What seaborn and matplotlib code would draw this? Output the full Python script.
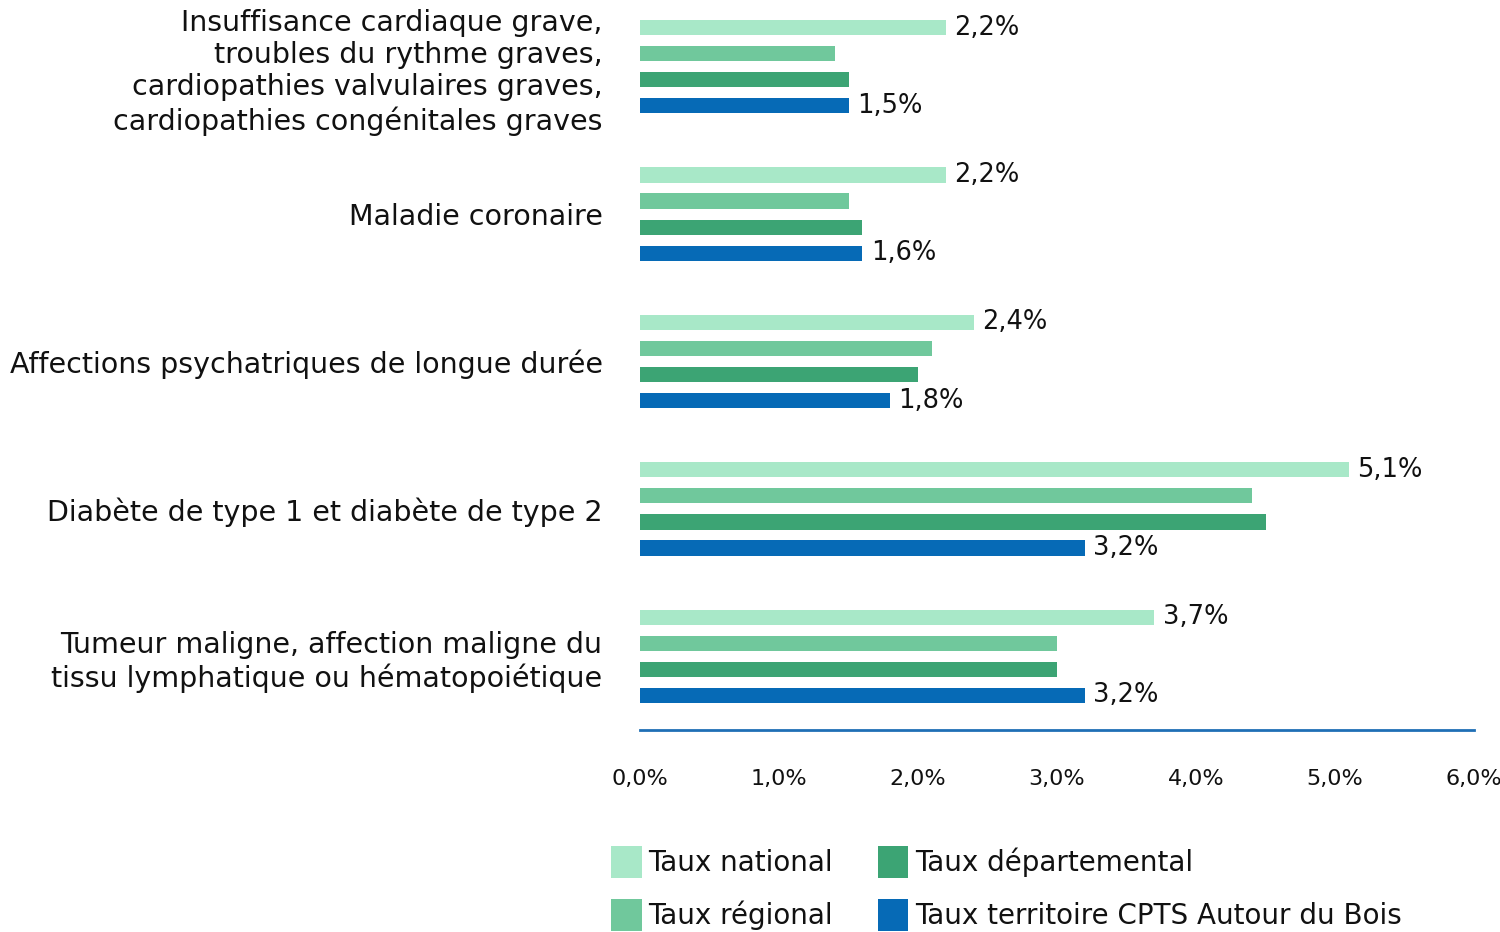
import pandas as pd
import matplotlib
matplotlib.use("Agg")
import matplotlib.pyplot as plt
import seaborn as sns

# --- données ---
categories = [
    "Insuffisance cardiaque grave,\ntroubles du rythme graves,\ncardiopathies valvulaires graves,\ncardiopathies congénitales graves",
    "Maladie coronaire",
    "Affections psychatriques de longue durée",
    "Diabète de type 1 et diabète de type 2",
    "Tumeur maligne, affection maligne du\ntissu lymphatique ou hématopoiétique",
]
series = ["Taux national", "Taux régional", "Taux départemental",
          "Taux territoire CPTS Autour du Bois"]
taux_national = [2.2, 2.2, 2.4, 5.1, 3.7]
taux_regional = [1.4, 1.5, 2.1, 4.4, 3.0]
taux_departemental = [1.5, 1.6, 2.0, 4.5, 3.0]
taux_territoire = [1.5, 1.6, 1.8, 3.2, 3.2]
x_ticks = [0, 1, 2, 3, 4, 5, 6]

colors = ["#a8e8c8", "#70c89c", "#3ca474", "#066ab6"]

rows = []
for s, vals in zip(series, [taux_national, taux_regional, taux_departemental, taux_territoire]):
    for c, v in zip(categories, vals):
        rows.append({"categorie": c, "serie": s, "valeur": v})
df = pd.DataFrame(rows)

sns.set_style("white")
plt.rcParams['font.family'] = ['DejaVu Sans']
plt.rcParams['text.color'] = '#111111'
plt.rcParams['xtick.color'] = '#111111'
plt.rcParams['ytick.color'] = '#111111'

fig = plt.figure(figsize=(15, 9.32), dpi=100)
ax = fig.add_axes([640 / 1500, (932 - 730) / 932, 834 / 1500, 737 / 932])

sns.barplot(data=df, y="categorie", x="valeur", hue="serie", orient="h",
            order=categories, hue_order=series, palette=colors, saturation=1,
            width=0.708, gap=0.42, linewidth=0, ax=ax, legend=True)

# étiquettes sur national et territoire
fmt = lambda v: f"{v:.1f}%".replace(".", ",")
ax.bar_label(ax.containers[0], labels=[fmt(v) for v in taux_national],
             padding=6, fontsize=18.5, color="#111111")
ax.bar_label(ax.containers[3], labels=[fmt(v) for v in taux_territoire],
             padding=6, fontsize=18.5, color="#111111")

ax.set_xlim(0, 6)
ax.set_ylim(4.5, -0.5)
ax.set_xticks(x_ticks)
ax.set_xticklabels([f"{t:.1f}%".replace(".", ",") for t in x_ticks], fontsize=16)
ax.tick_params(axis="x", length=0, pad=28)
ax.tick_params(axis="y", length=0, pad=27, labelsize=20.5)
ax.set_xlabel("")
ax.set_ylabel("")
for lbl in ax.get_yticklabels():
    lbl.set_horizontalalignment("right")
    lbl.set_multialignment("right")
    lbl.set_linespacing(1.2)

for side in ["top", "right", "left"]:
    ax.spines[side].set_visible(False)
ax.spines["bottom"].set_color("#1f6fb5")
ax.spines["bottom"].set_linewidth(2)

handles, labels = ax.get_legend_handles_labels()
ax.get_legend().remove()
fig.legend(handles, labels, loc="upper left", ncol=2,
           bbox_to_anchor=(586 / 1500, 1 - 821 / 932), frameon=False,
           fontsize=20, handlelength=1.1, handleheight=1.4,
           handletextpad=0.25, columnspacing=1.6, labelspacing=0.75)

plt.savefig("out.png", dpi=100)
